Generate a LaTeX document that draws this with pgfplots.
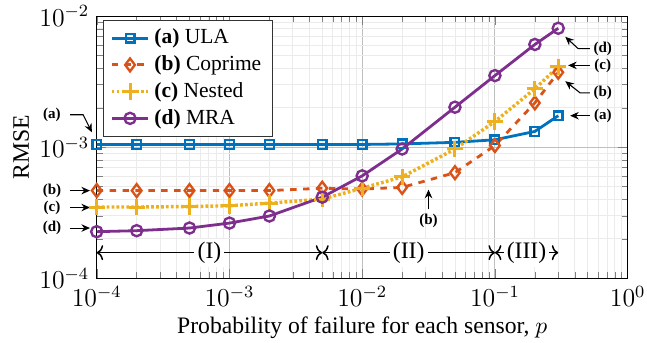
\documentclass[border=0pt]{standalone}
\usepackage{fontspec}
\setmainfont{Liberation Serif}
\usepackage{pgfplots}
\pgfplotsset{compat=1.18}
\usetikzlibrary{arrows.meta,calc}
\definecolor{cula}{RGB}{0,114,189}
\definecolor{ccop}{RGB}{217,83,25}
\definecolor{cnes}{RGB}{237,177,32}
\definecolor{cmra}{RGB}{126,47,142}
\pgfplotstableread{
x ula cop nes mra
1e-4 1.05e-3 4.67e-4 3.50e-4 2.27e-4
2e-4 1.05e-3 4.67e-4 3.50e-4 2.31e-4
5e-4 1.05e-3 4.67e-4 3.53e-4 2.42e-4
1e-3 1.05e-3 4.67e-4 3.58e-4 2.64e-4
2e-3 1.05e-3 4.67e-4 3.75e-4 2.99e-4
5e-3 1.05e-3 4.87e-4 4.02e-4 4.16e-4
1e-2 1.05e-3 4.80e-4 4.87e-4 6.05e-4
2e-2 1.06e-3 4.94e-4 5.94e-4 9.70e-4
5e-2 1.09e-3 6.40e-4 9.70e-4 2.02e-3
1e-1 1.14e-3 1.03e-3 1.57e-3 3.52e-3
2e-1 1.32e-3 2.18e-3 2.79e-3 6.08e-3
3e-1 1.74e-3 3.73e-3 4.11e-3 8.08e-3
}\datatab
\begin{document}
\begin{tikzpicture}
\begin{axis}[
  scale only axis, width=247pt, height=122pt,
  xmode=log, ymode=log,
  xmin=1e-4, xmax=1, ymin=1e-4, ymax=1e-2,
  grid=both,
  major grid style={black!25, line width=0.4pt},
  minor grid style={black!8, line width=0.4pt},
  tick align=inside,
  tick label style={font=\fontsize{11.5}{14}\selectfont},
  label style={font=\fontsize{11}{13.5}\selectfont},
  xlabel={Probability of failure for each sensor, $p$},
  xlabel style={yshift=2pt},
  ylabel={RMSE},
  ylabel style={yshift=-2pt},
  clip=false,
  legend style={at={(0.012,0.985)}, anchor=north west, draw=black!80, font=\normalsize, fill=white, row sep=0pt},
  legend cell align=left,
  every axis plot/.append style={line width=1.3pt},
]
\addplot[color=cula, mark=square, mark size=2pt, mark options={solid, line width=1.1pt}] table[x=x, y=ula] {\datatab};
\addlegendentry{\textbf{(a)} ULA}
\addplot[color=ccop, dashed, mark=diamond, mark size=3pt, mark options={solid, line width=1.1pt}] table[x=x, y=cop] {\datatab};
\addlegendentry{\textbf{(b)} Coprime}
\addplot[color=cnes, densely dotted, line width=1.6pt, mark=+, mark size=3.8pt, mark options={solid, line width=1.4pt}] table[x=x, y=nes] {\datatab};
\addlegendentry{\textbf{(c)} Nested}
\addplot[color=cmra, mark=o, mark size=2.6pt, mark options={solid, line width=1.1pt}] table[x=x, y=mra] {\datatab};
\addlegendentry{\textbf{(d)} MRA}

% left annotations
\tikzset{lab/.style={font=\scriptsize\bfseries, inner sep=1pt}, arr/.style={-{Stealth[length=4pt,width=3.5pt]}, line width=0.5pt}}
\node[lab] at (axis cs:4.6e-5,1.77e-3) {(a)};
\draw[arr] (axis cs:6.3e-5,1.77e-3) -- (axis cs:7.9e-5,1.77e-3) -- (axis cs:9.2e-5,1.30e-3);
\node[lab] at (axis cs:4.6e-5,4.67e-4) {(b)};
\draw[arr] (axis cs:6.3e-5,4.67e-4) -- (axis cs:8.9e-5,4.67e-4);
\node[lab] at (axis cs:4.6e-5,3.47e-4) {(c)};
\draw[arr] (axis cs:6.3e-5,3.47e-4) -- (axis cs:8.9e-5,3.47e-4);
\node[lab] at (axis cs:4.6e-5,2.42e-4) {(d)};
\draw[arr] (axis cs:6.3e-5,2.42e-4) -- (axis cs:8.9e-5,2.42e-4);
% right annotations
\node[lab] at (axis cs:0.65,5.65e-3) {(d)};
\draw[arr] (axis cs:0.52,5.65e-3) -- (axis cs:0.424,5.65e-3) -- (axis cs:0.339,6.95e-3);
\node[lab] at (axis cs:0.65,4.21e-3) {(c)};
\draw[arr] (axis cs:0.52,4.21e-3) -- (axis cs:0.356,4.21e-3);
\node[lab] at (axis cs:0.65,2.6e-3) {(b)};
\draw[arr] (axis cs:0.52,2.6e-3) -- (axis cs:0.438,2.6e-3) -- (axis cs:0.339,3.19e-3);
\node[lab] at (axis cs:0.65,1.74e-3) {(a)};
\draw[arr] (axis cs:0.52,1.74e-3) -- (axis cs:0.369,1.74e-3);
% bottom (b)
\node[lab] at (axis cs:0.0316,2.73e-4) {(b)};
\draw[arr] (axis cs:0.0316,3.36e-4) -- (axis cs:0.0316,4.75e-4);
% regions
\draw[{To[length=3pt,width=7pt]}-{To[length=3pt,width=7pt]}, line width=0.7pt] (axis cs:1e-4,1.57e-4) -- (axis cs:5e-3,1.57e-4);
\draw[{To[length=3pt,width=7pt]}-{To[length=3pt,width=7pt]}, line width=0.7pt] (axis cs:5e-3,1.57e-4) -- (axis cs:1e-1,1.57e-4);
\draw[{To[length=3pt,width=7pt]}-{To[length=3pt,width=7pt]}, line width=0.7pt] (axis cs:1e-1,1.57e-4) -- (axis cs:3e-1,1.57e-4);
\node[fill=white, inner sep=1.5pt, font=\fontsize{11}{13}\selectfont] at (axis cs:7.07e-4,1.57e-4) {(I)};
\node[fill=white, inner sep=1.5pt, font=\fontsize{11}{13}\selectfont] at (axis cs:0.0224,1.57e-4) {(II)};
\node[fill=white, inner sep=1.5pt, font=\fontsize{11}{13}\selectfont] at (axis cs:0.173,1.57e-4) {(III)};
\end{axis}
\pgfresetboundingbox
\path ($(current axis.south west)+(-45pt,-30pt)$) rectangle ($(current axis.north east)+(9pt,7.5pt)$);
\end{tikzpicture}
\end{document}
